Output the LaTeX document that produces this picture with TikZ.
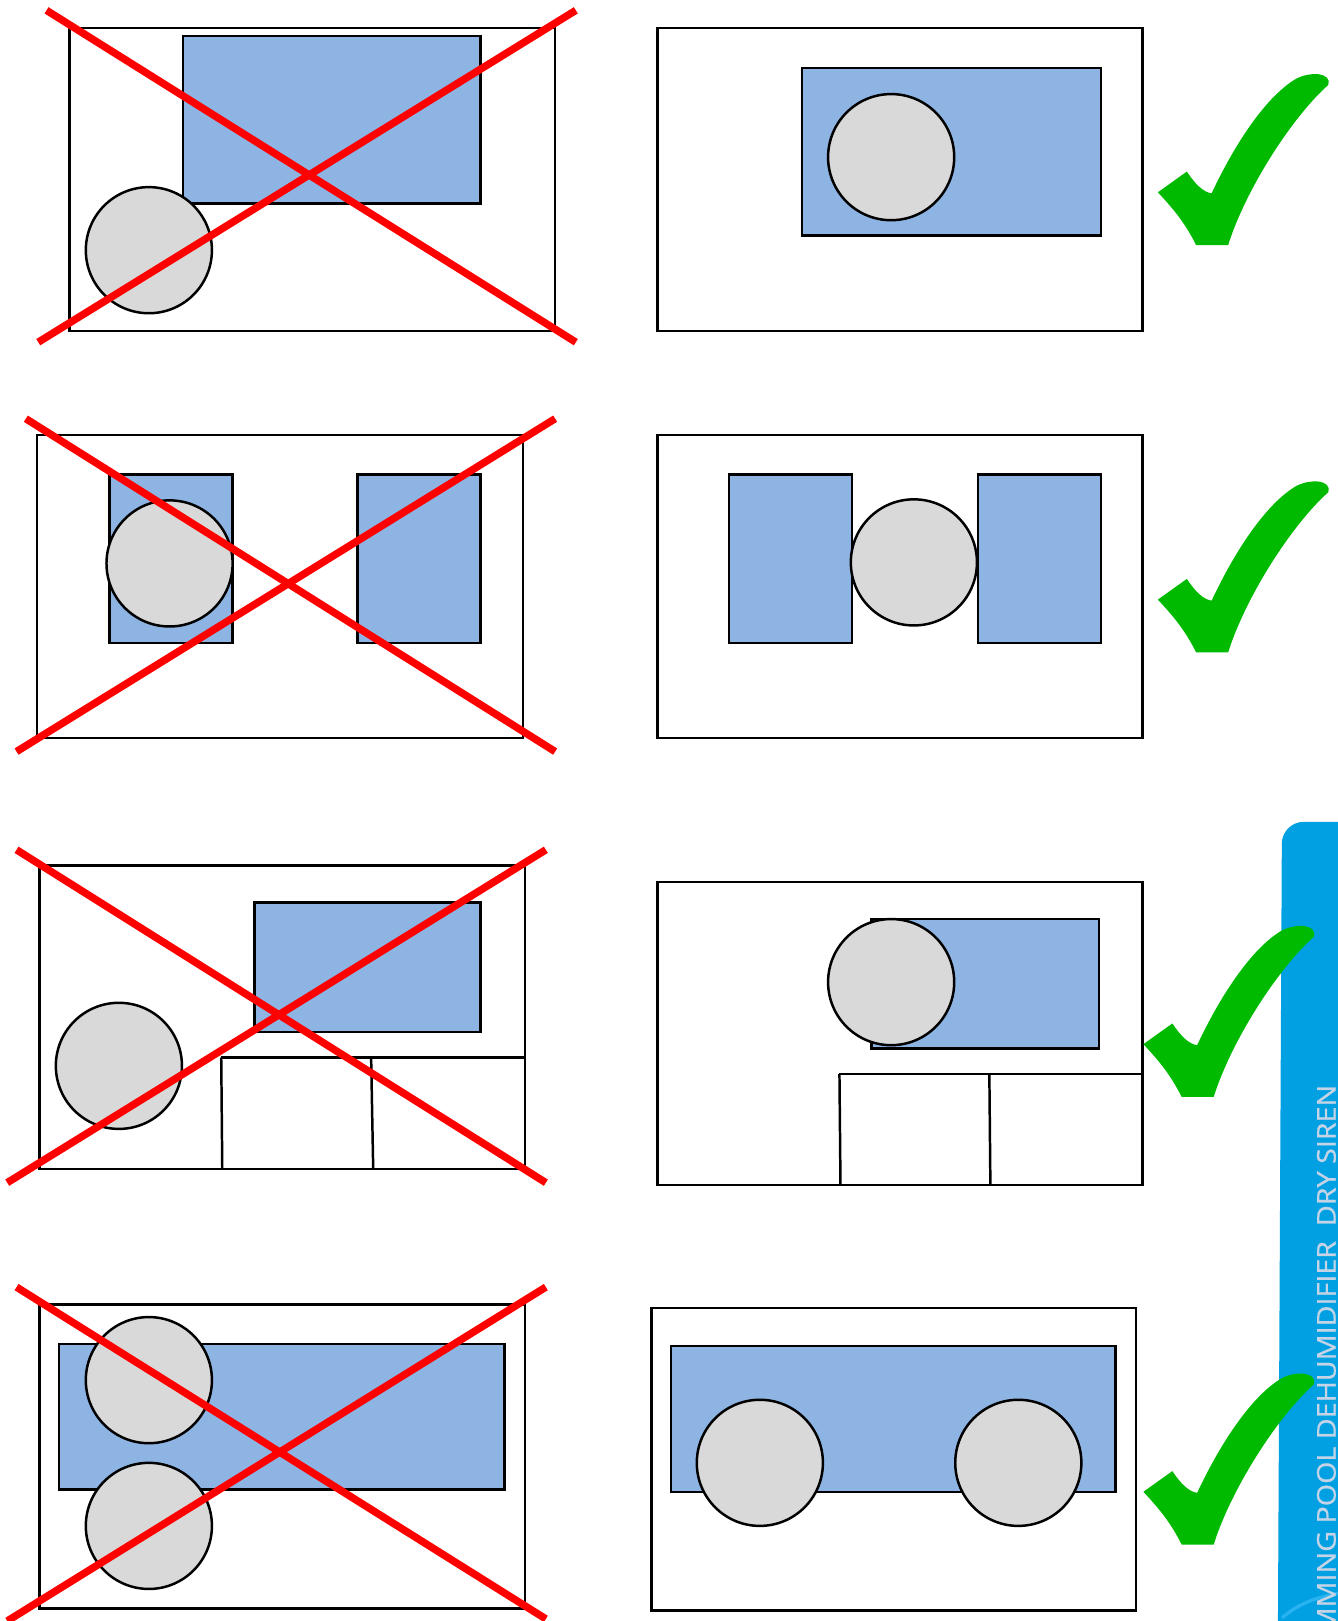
\documentclass[tikz,border=0pt]{standalone}
\usepackage{fontspec}
\setsansfont{Open Sans}
\newfontfamily\bandfont[FakeBold=0.8]{Open Sans}
\definecolor{boxblue}{RGB}{142,180,227}
\definecolor{discgrey}{RGB}{217,217,217}
\definecolor{crossred}{RGB}{255,0,0}
\definecolor{checkgreen}{RGB}{0,186,0}
\definecolor{bandblue}{RGB}{0,160,227}
\definecolor{bandlight}{RGB}{40,178,240}
\definecolor{bandtext}{RGB}{196,212,230}
\begin{document}
\begin{tikzpicture}[x=0.5pt,y=-0.5pt,
  frame/.style={draw=black,line width=1.2pt,fill=white},
  bluebox/.style={draw=black,line width=1.2pt,fill=boxblue},
  disc/.style={draw=black,line width=1.2pt,fill=discgrey},
  cross/.style={draw=crossred,line width=3.6pt},
  partline/.style={draw=black,line width=1.2pt},
  check/.pic={
    \fill[checkgreen] (0,113) -- (28,93)
      .. controls (36,105) and (44,113) .. (52,114)
      .. controls (75,65) and (105,20) .. (134,3)
      .. controls (148,-4) and (168,-3) .. (165,9)
      .. controls (130,40) and (85,110) .. (68,164)
      -- (37,164)
      .. controls (25,140) and (12,126) .. (0,113) -- cycle;
  }]
\useasboundingbox (0,0) rectangle (1294,1568);
\begin{scope}
\clip (0,0) rectangle (1294,1568);
% side band
\fill[bandblue,rounded corners=10.5pt] (1236,1600) -- (1240,795) -- (1330,795) -- (1330,1600) -- cycle;
\draw[bandlight,line width=1.6pt] (1240,1565) .. controls (1255,1552) and (1272,1545) .. (1296,1541);
\node[rotate=90,anchor=base east,inner sep=0pt,text=bandtext,
      font=\bandfont\fontsize{12.5}{12.5}\selectfont] (bandlabel) at (1292,1049)
      {\scalebox{1.11}[1]{SWIMMING POOL DEHUMIDIFIER\ \ DRY SIREN}};

% ---------- row 1 ----------
\draw[frame] (67,27) rectangle (537,320);
\draw[bluebox] (177,35) rectangle (465,197);
\draw[disc] (144,242) circle[radius=30.5pt];
\draw[cross] (45,10) -- (557,331);
\draw[cross] (37,331) -- (557,10);

\draw[frame] (636,27) rectangle (1105,320);
\draw[bluebox] (776,66) rectangle (1065,228);
\draw[disc] (862,152) circle[radius=30.5pt];
\pic at (1120,73) {check};

% ---------- row 2 ----------
\draw[frame] (36,421) rectangle (506,714);
\draw[bluebox] (106,459) rectangle (225,622);
\draw[bluebox] (346,459) rectangle (465,622);
\draw[disc] (164,545) circle[radius=30.5pt];
\draw[cross] (25,405) -- (537,727);
\draw[cross] (16,727) -- (537,405);

\draw[frame] (636,421) rectangle (1105,714);
\draw[bluebox] (705,459) rectangle (824,622);
\draw[bluebox] (946,459) rectangle (1065,622);
\draw[disc] (884,544) circle[radius=30.5pt];
\pic at (1120,467) {check};

% ---------- row 3 ----------
\draw[frame] (38,837) rectangle (508,1131);
\draw[bluebox] (246,873) rectangle (465,998);
\draw[disc] (115,1031) circle[radius=30.5pt];
\draw[partline] (214,1023) -- (508,1023);
\draw[partline] (214,1023) -- (215,1131);
\draw[partline] (359,1023) -- (361,1131);
\draw[cross] (16,822) -- (528,1144);
\draw[cross] (7,1144) -- (528,822);

\draw[frame] (636,853) rectangle (1105,1146);
\draw[bluebox] (843,889) rectangle (1063,1014);
\draw[disc] (862,950) circle[radius=30.5pt];
\draw[partline] (812,1039) -- (1105,1039);
\draw[partline] (812,1039) -- (813,1146);
\draw[partline] (957,1039) -- (958,1146);
\pic at (1106,897) {check};

% ---------- row 4 ----------
\draw[frame] (38,1262) rectangle (508,1556);
\draw[bluebox] (57,1300) rectangle (488,1441);
\draw[disc] (144,1335) circle[radius=30.5pt];
\draw[disc] (144,1476) circle[radius=30.5pt];
\draw[cross] (16,1245) -- (528,1566);
\draw[cross] (7,1568) -- (528,1245);

\draw[frame] (630,1265) rectangle (1099,1558);
\draw[bluebox] (649,1302) rectangle (1079,1443);
\draw[disc] (735,1415) circle[radius=30.5pt];
\draw[disc] (985,1415) circle[radius=30.5pt];
\pic at (1106,1330) {check};
\end{scope}
\end{tikzpicture}
\end{document}
